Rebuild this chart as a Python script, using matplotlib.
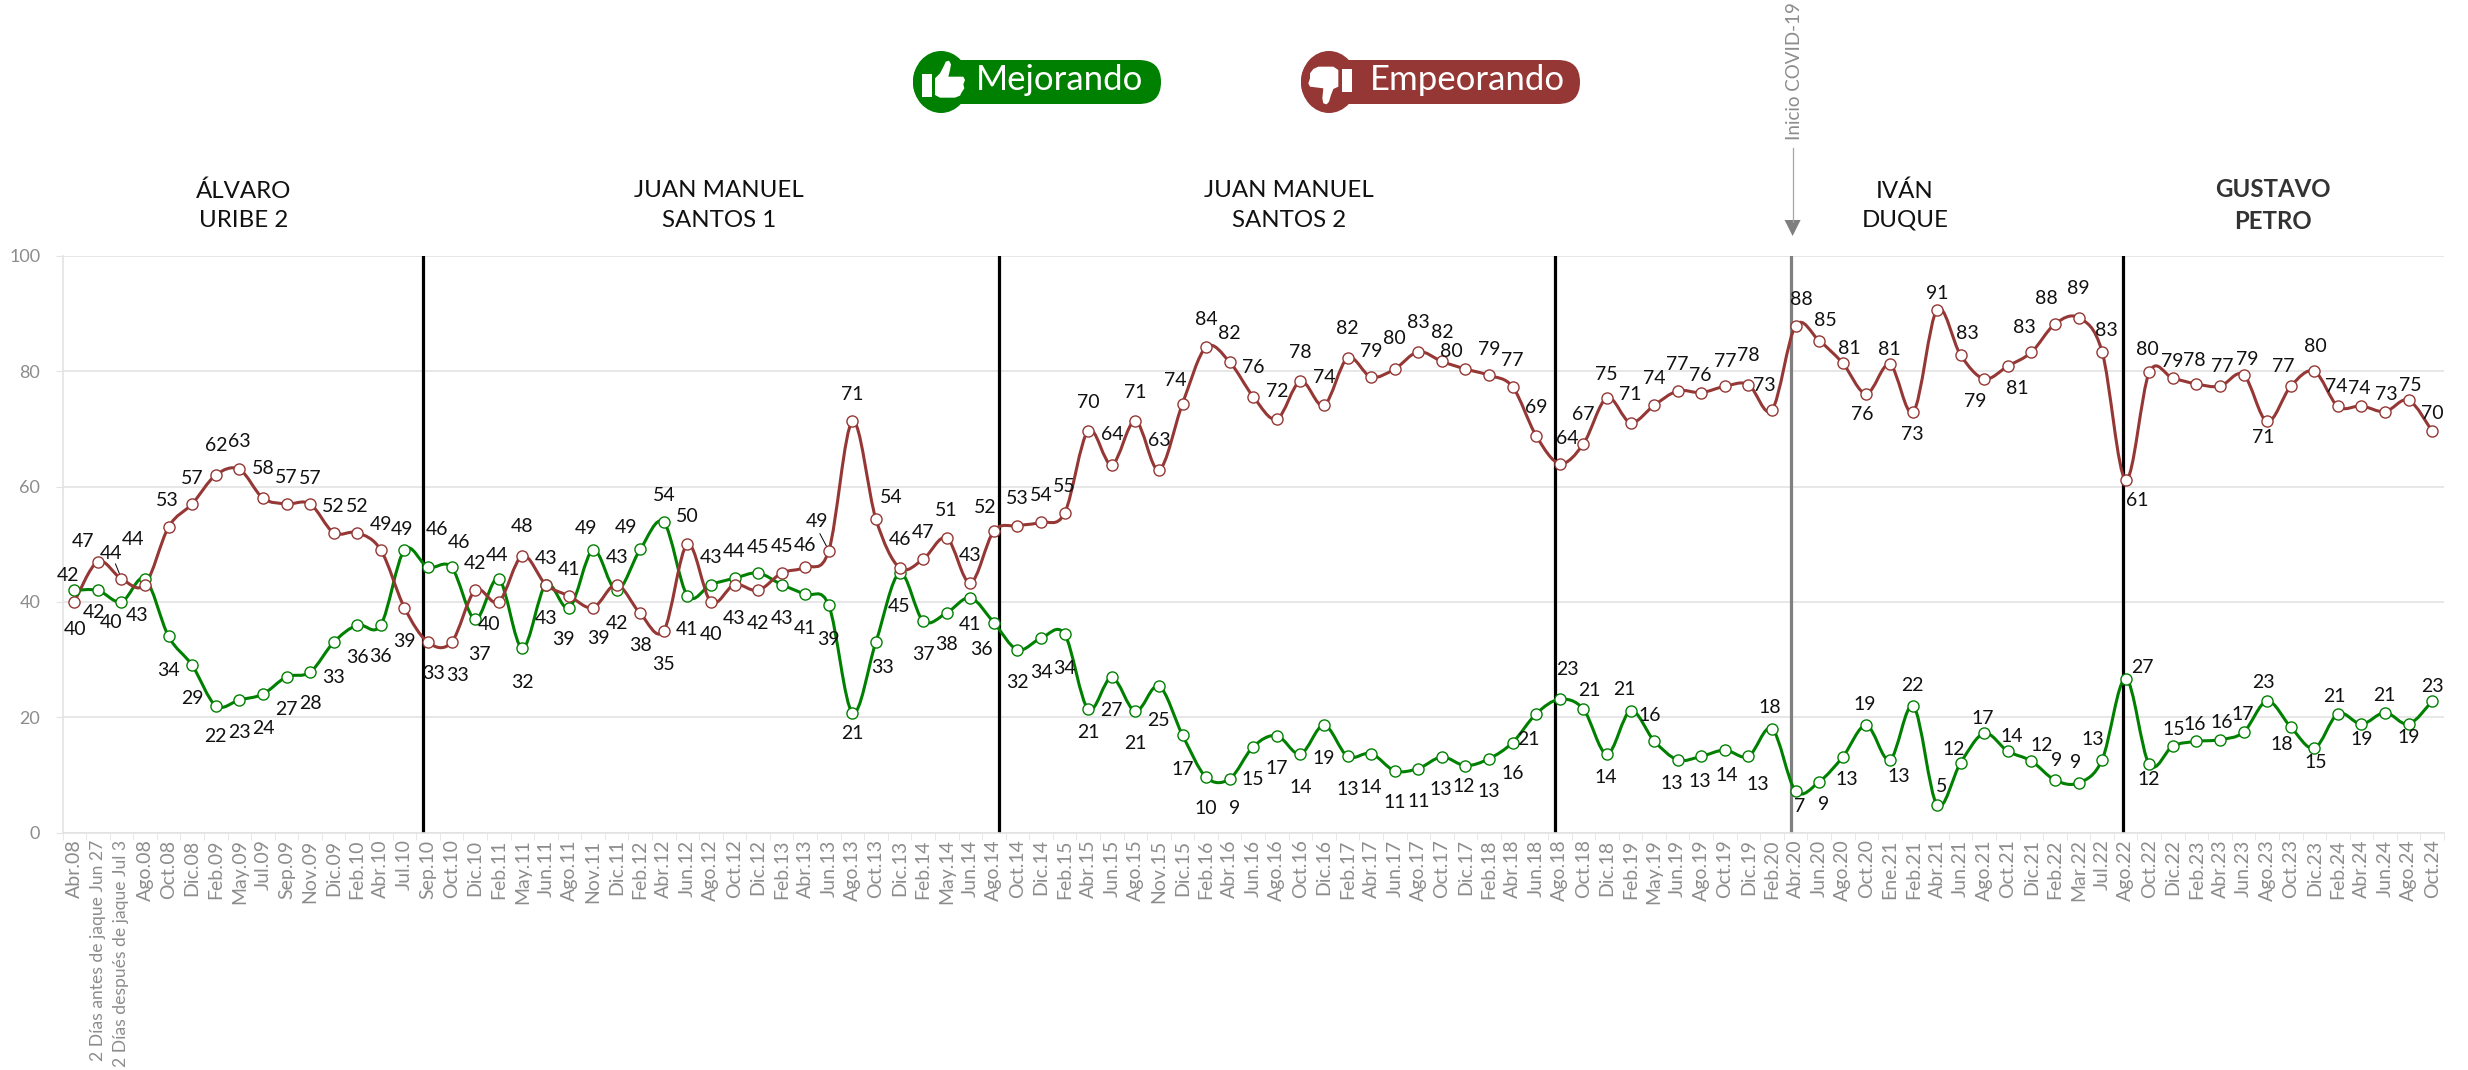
import matplotlib
matplotlib.use("Agg")
import matplotlib.pyplot as plt
from matplotlib.path import Path
from matplotlib.patches import PathPatch, Ellipse, FancyBboxPatch, Polygon, Rectangle

plt.rcParams['font.family'] = ['Lato', 'DejaVu Sans']

# datos
periodos = [
    'Abr.08', '2 Días antes de jaque Jun 27', '2 Días después de jaque Jul 3', 'Ago.08', 'Oct.08', 'Dic.08',
    'Feb.09', 'May.09', 'Jul.09', 'Sep.09', 'Nov.09', 'Dic.09', 'Feb.10', 'Abr.10', 'Jul.10', 'Sep.10', 'Oct.10',
    'Dic.10', 'Feb.11', 'May.11', 'Jun.11', 'Ago.11', 'Nov.11', 'Dic.11', 'Feb.12', 'Abr.12', 'Jun.12', 'Ago.12',
    'Oct.12', 'Dic.12', 'Feb.13', 'Abr.13', 'Jun.13', 'Ago.13', 'Oct.13', 'Dic.13', 'Feb.14', 'May.14', 'Jun.14',
    'Ago.14', 'Oct.14', 'Dic.14', 'Feb.15', 'Abr.15', 'Jun.15', 'Ago.15', 'Nov.15', 'Dic.15', 'Feb.16', 'Abr.16',
    'Jun.16', 'Ago.16', 'Oct.16', 'Dic.16', 'Feb.17', 'Abr.17', 'Jun.17', 'Ago.17', 'Oct.17', 'Dic.17', 'Feb.18',
    'Abr.18', 'Jun.18', 'Ago.18', 'Oct.18', 'Dic.18', 'Feb.19', 'May.19', 'Jun.19', 'Ago.19', 'Oct.19', 'Dic.19',
    'Feb.20', 'Abr.20', 'Jun.20', 'Ago.20', 'Oct.20', 'Ene.21', 'Feb.21', 'Abr.21', 'Jun.21', 'Ago.21', 'Oct.21',
    'Dic.21', 'Feb.22', 'Mar.22', 'Jul.22', 'Ago.22', 'Oct.22', 'Dic.22', 'Feb.23', 'Abr.23', 'Jun.23', 'Ago.23',
    'Oct.23', 'Dic.23', 'Feb.24', 'Abr.24', 'Jun.24', 'Ago.24', 'Oct.24',
]
mejorando = [
    42, 42, 40, 44, 34, 29, 22, 23, 24, 27, 27.8, 33, 36, 36, 49, 46, 46, 37, 44, 32, 43, 39, 49, 42,
    49.1, 53.8, 41.1, 43, 44.1, 45, 43, 41.3, 39.4, 20.8, 33.1, 45, 36.7, 38.1, 40.7, 36.4, 31.7, 33.7, 34.4,
    21.4, 26.9, 21, 25.4, 16.9, 9.6, 9.3, 14.9, 16.8, 13.6, 18.6, 13.2, 13.7, 10.7, 11.1, 13.1, 11.6, 12.8,
    15.6, 20.6, 23.1, 21.4, 13.6, 21.1, 15.9, 12.6, 13.2, 14.3, 13.2, 18, 7.2, 8.8, 13.1, 18.6, 12.6, 21.9,
    4.8, 12.1, 17.2, 14.1, 12.4, 9.1, 8.6, 12.6, 26.7, 11.8, 15, 15.8, 16.1, 17.4, 22.8, 18.3, 14.6, 20.6,
    18.8, 20.8, 18.8, 22.8,
]
empeorando = [
    40, 47, 44, 43, 53, 57, 62, 63, 58, 57, 57, 52, 52, 49, 39, 33, 33, 42, 40, 48, 43, 41, 39, 43,
    38, 35, 50, 40, 43, 42, 45, 46, 48.9, 71.3, 54.3, 45.9, 47.4, 51.1, 43.3, 52.3, 53.2, 53.8, 55.4,
    69.7, 63.8, 71.4, 62.9, 74.4, 84.2, 81.6, 75.6, 71.7, 78.3, 74.1, 82.3, 79, 80.4, 83.4, 81.7, 80.4, 79.3,
    77.3, 68.8, 64, 67.4, 75.4, 71.1, 74.1, 76.6, 76.3, 77.4, 77.7, 73.3, 87.9, 85.3, 81.4, 76.1, 81.2, 73,
    90.7, 82.8, 78.7, 80.9, 83.3, 88.2, 89.3, 83.4, 61.2, 79.8, 78.8, 77.8, 77.4, 79.4, 71.3, 77.4, 80, 73.9,
    74, 73, 75, 69.6,
]
presidentes = ['ÁLVARO\nURIBE 2', 'JUAN MANUEL\nSANTOS 1', 'JUAN MANUEL\nSANTOS 2', 'IVÁN\nDUQUE', 'GUSTAVO\nPETRO']

# desplazamientos de las etiquetas en pixeles
verde_dx = [-6, -4, -10, -12, 0, 0, 0, 0, 0, 0, 0, 0, 0, 0, -2, 9, 7, 4, -2, 0, 0, -6, -7, 0,
            -14, 0, 0, 0, 0, 0, 0, 0, 0, 0, 7, 0, 0, 0, 0, -12, 0, 0, 0, 0, 0, 0, 0, 0, 0,
            5, 0, 0, 0, 0, 0, 0, 0, 0, -1, -2, 0, 0, -8, 8, 6, -1, -6, -4, -6, -1, 2, 9, -2, 4, 4, 4,
            -2, 9, -1, 5, -7, -1, 4, 10, 2, -3, -9, 17, -1, 1, -2, 2, -1, -4, -9, 1, -4, 0, -1, 0, 0]
verde_dy = [15, -22, -21, 39, -34, -33, -31, -33, -34, -33, -31, -35, -33, -32, 21, 38, 25, -35, 23, -34, -34, -32, 22, -33,
            22, 27, -34, 27, 27, 26, -34, -34, -34, -21, -26, -33, -34, -32, -27, -27, -33, -34, -34, -23, -33, -32, -34, -34, -31,
            -30, -33, -33, -33, -33, -33, -34, -32, -33, -33, -21, -33, -31, -26, 30, 19, -23, 21, 25, -24, -25, -25, -28, 21, -16, -23, -23,
            21, -17, 21, 18, 13, 15, 15, 16, 20, 20, 20, 11, -15, 17, 17, 17, 18, 19, -17, -14, 17, -15, 17, -13, 15]
rojo_dx = [1, -15, -10, -8, -1, 0, 0, 0, 0, 0, 0, 0, 0, 0, 0, 6, 6, 0, -10, 0, 0, 0, 5, 0,
           0, 0, 0, 0, 0, 0, 0, 0, -12, 0, 15, 0, 0, 0, 0, -9, 0, 0, 0, 0, 0, 0, 0, -7, 0,
           0, 0, 0, 0, 0, 0, 0, 0, 0, 0, -14, 0, 0, 0, 7, 0, -1, 0, 0, 0, -1, 0, 0, -8, 6, 6, 7,
           -4, -1, -1, 0, 7, -9, 10, -7, -9, 0, 4, 12, -2, -1, -2, 2, 4, -4, -7, 1, -2, -2, 1, 2, 0]
rojo_dy = [-28, 20, 25, -31, 26, 25, 30, 28, 30, 26, 25, 26, 26, 26, -34, -31, -33, 27, -23, 29, 26, 27, -31, 27,
           -32, -34, 28, -33, -34, -33, 27, 22, 29, 27, 22, 28, 27, 27, 27, 23, 27, 27, 27, 28, 30, 28, 29, 23, 28,
           29, 29, 28, 29, 28, 30, 26, 30, 29, 29, 17, 26, 26, 28, 25, 29, 23, 28, 27, 26, 17, 25, 29, 24, 26, 20, 15,
           -21, 15, -23, 16, 22, -23, -22, 25, 26, 29, 21, -21, 23, 17, 23, 20, 15, -16, 20, 25, 20, 17, 17, 15, 18]

VERDE = '#008000'
ROJO = '#953735'
GRIS = '#8c8c8c'
W, H = 2468, 1070
PX = 0.72  # pixeles a puntos con dpi=100

fig = plt.figure(figsize=(W / 100, H / 100), dpi=100, facecolor='white')
ax = fig.add_axes([62.5 / W, 1 - 832.5 / H, (2444 - 62.5) / W, (832.5 - 256) / H])
n = len(periodos)
ax.set_xlim(-0.5, n - 0.5)
ax.set_ylim(0, 100)


def curva(valores, color):
    # curva suavizada con beziers, como el suavizado de Excel
    verts = [(0, valores[0])]
    codes = [Path.MOVETO]
    for i in range(n - 1):
        y0 = valores[max(i - 1, 0)]
        y1, y2 = valores[i], valores[i + 1]
        y3 = valores[min(i + 2, n - 1)]
        x0, x3 = max(i - 1, 0), min(i + 2, n - 1)
        verts += [(i + (i + 1 - x0) / 6, y1 + (y2 - y0) / 6),
                  (i + 1 - (x3 - i) / 6, y2 - (y3 - y1) / 6),
                  (i + 1, y2)]
        codes += [Path.CURVE4] * 3
    ax.add_patch(PathPatch(Path(verts, codes), fill=False, edgecolor=color, lw=2.2, zorder=3))
    ax.plot(range(n), valores, ls='none', marker='o', ms=8.0, mfc='white', mec=color, mew=1.0, zorder=4)


curva(mejorando, VERDE)
curva(empeorando, ROJO)

# lineas de cambio de gobierno
for xv in [14.79, 39.2, 62.8, 86.9]:
    ax.axvline(xv, color='black', lw=2.3, zorder=2)
ax.axvline(72.82, color='#808080', lw=2.3, zorder=2)

# etiquetas
for valores, dxs, dys in [(mejorando, verde_dx, verde_dy), (empeorando, rojo_dx, rojo_dy)]:
    for i, v in enumerate(valores):
        ax.annotate(f'{v:.0f}', xy=(i, v), xytext=(dxs[i] * PX, dys[i] * PX), textcoords='offset points',
                    ha='center', va='center', fontsize=14, color='#111111', zorder=5)

# lineas guia de dos etiquetas
for i, dx, dy in [(2, -6, 15), (32, -9, 17)]:
    ax.annotate('', xy=(i, empeorando[i]), xytext=(dx * PX, dy * PX), textcoords='offset points',
                arrowprops=dict(arrowstyle='-', color='black', lw=0.7, shrinkA=0, shrinkB=1))

# ejes
ax.set_axisbelow(True)
ax.set_yticks(range(0, 101, 20))
ax.yaxis.grid(True, color='#e3e3e3', lw=1.2)
ax.tick_params(axis='y', length=5, color='#e3e3e3', labelsize=13, labelcolor=GRIS, pad=11)
ax.set_xticks(range(n))
ax.set_xticklabels(periodos, rotation=90, fontsize=14, color=GRIS, ha='center', va='top')
# las dos etiquetas largas tienen que caber hasta el borde de abajo
for etiqueta in ax.get_xticklabels()[1:3]:
    etiqueta.set_fontsize(12.6)
ax.set_xticks([i - 0.5 for i in range(n + 1)], minor=True)
ax.tick_params(axis='x', which='major', length=0, pad=5)
ax.tick_params(axis='x', which='minor', length=5, color='#e3e3e3')
for lado in ['top', 'right']:
    ax.spines[lado].set_visible(False)
for lado in ['left', 'bottom']:
    ax.spines[lado].set_color('#e3e3e3')
    ax.spines[lado].set_linewidth(1.2)

# capa superior en pixeles: titulos y leyenda
top = fig.add_axes([0, 0, 1, 1], facecolor='none')
top.set_xlim(0, W)
top.set_ylim(H, 0)
top.axis('off')

for nombre, xc in zip(presidentes, [244, 719, 1289, 1905, 2273]):
    es_petro = nombre.startswith('GUSTAVO')
    top.text(xc, 205.5, nombre, ha='center', va='center', fontsize=17.3, linespacing=1.5,
             color='#333333' if es_petro else '#111111', fontweight='bold' if es_petro else 'normal')

# iconos, en pixeles de la imagen
mano_arriba = [(90, 100), (105, 85), (118, 60), (122, 50), (132, 47), (138, 58), (135, 75), (130, 95), (175, 95),
               (180, 105), (175, 118), (178, 130), (170, 142), (165, 152), (150, 158), (105, 158), (90, 150)]
mano_abajo = [(130, 125), (115, 132), (108, 150), (102, 170), (95, 178), (85, 175), (82, 160), (85, 130), (45, 125),
              (40, 115), (45, 100), (45, 85), (55, 72), (70, 65), (115, 65), (130, 75)]


def pildora(x0, x1, xc, color, texto, xt, mano, ox, puno):
    top.add_patch(FancyBboxPatch((x0 + 22, 82), x1 - x0 - 44, 0, boxstyle='round,pad=22,rounding_size=22',
                                 fc=color, ec='none'))
    top.add_patch(Ellipse((xc, 82), 56, 62, fc=color, ec='none'))
    top.text(xt, 80, texto, ha='center', va='center', color='white', fontsize=25)
    top.add_patch(Polygon([(ox + mx / 3, 45 + my / 3) for mx, my in mano], fc='white', ec='none'))
    top.add_patch(Rectangle(puno, 10, 23, fc='white', ec='none'))


pildora(913, 1161, 941, VERDE, 'Mejorando', 1060, mano_arriba, 905, (922, 74))
pildora(1301, 1580, 1329, ROJO, 'Empeorando', 1467, mano_abajo, 1295, (1342, 69))

# inicio de la pandemia
top.text(1794, 71, 'Inicio COVID-19', rotation=90, ha='center', va='center', fontsize=13.5, color=GRIS)
top.plot([1792.6, 1792.6], [148, 222], color='#a6a6a6', lw=0.9)
top.add_patch(Polygon([(1784.6, 220), (1800.6, 220), (1792.6, 236)], fc='#7f7f7f', ec='none'))

fig.savefig('out.png', dpi=100)
